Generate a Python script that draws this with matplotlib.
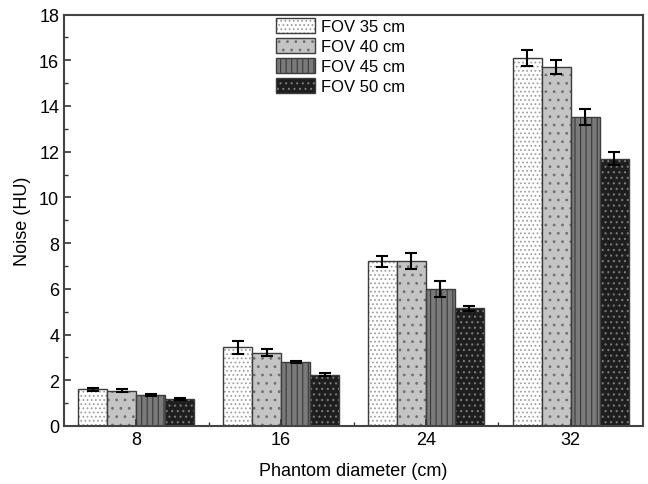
import numpy as np
import matplotlib.pyplot as plt
from matplotlib.patches import Patch

plt.rcParams['font.family'] = ['Liberation Sans', 'DejaVu Sans']
plt.rcParams['hatch.linewidth'] = 0.8

# phantom diameters (cm)
diameters = ['8', '16', '24', '32']
fov_labels = ['FOV 35 cm', 'FOV 40 cm', 'FOV 45 cm', 'FOV 50 cm']

# noise (HU) per FOV, one value per phantom diameter
noise_35 = [1.60, 3.45, 7.20, 16.10]
noise_40 = [1.55, 3.20, 7.20, 15.70]
noise_45 = [1.35, 2.80, 6.00, 13.50]
noise_50 = [1.18, 2.25, 5.15, 11.70]

err_35 = [0.05, 0.28, 0.25, 0.35]
err_40 = [0.05, 0.15, 0.35, 0.30]
err_45 = [0.05, 0.05, 0.35, 0.35]
err_50 = [0.05, 0.08, 0.12, 0.28]

noise = [noise_35, noise_40, noise_45, noise_50]
errs = [err_35, err_40, err_45, err_50]

faces = ['#ffffff', '#c4c4c4', '#7a7a7a', '#1e1e1e']
hatch_cols = ['#a0a0a0', '#707070', '#3a3a3a', '#7a7a7a']
hatches = ['....', '..', '|||', '...']

fig = plt.figure(figsize=(6.48, 4.85), dpi=100)
ax = fig.add_axes([0.0988, 0.1196, 0.8935, 0.8484])

x = np.arange(len(diameters))
w = 0.2
for i in range(4):
    pos = x + (i - 1.5) * w
    # hatched fill, then outline on top
    ax.bar(pos, noise[i], w, color=faces[i], hatch=hatches[i],
           edgecolor=hatch_cols[i], linewidth=0)
    ax.bar(pos, noise[i], w, fill=False, edgecolor='#3c3c3c', linewidth=1.0)
    ax.errorbar(pos, noise[i], yerr=errs[i], fmt='none', ecolor='black',
                elinewidth=1.5, capsize=4, capthick=1.5)

# legend handles: hatched patch + outline overlaid
handles = [(Patch(facecolor=faces[i], edgecolor=hatch_cols[i], hatch=hatches[i], linewidth=0),
            Patch(fill=False, edgecolor='#3c3c3c', linewidth=1.0)) for i in range(4)]
ax.legend(handles, fov_labels, loc='upper left',
          bbox_to_anchor=(273 / 648, 1 - 16 / 485), bbox_transform=fig.transFigure,
          frameon=False, fontsize=12, handlelength=2.3, handleheight=1.0,
          labelspacing=0.22, handletextpad=0.4, borderaxespad=0, borderpad=0.2)

ax.set_xlim(-0.5, 3.5)
ax.set_ylim(0, 18)
ax.set_xticks(x)
ax.set_xticklabels(diameters)
ax.set_xticks(x[:-1] + 0.5, minor=True)
ax.set_yticks(np.arange(0, 19, 2))
ax.set_yticks(np.arange(1, 18, 2), minor=True)
ax.tick_params(axis='both', which='major', direction='in', length=5, width=1.2,
               labelsize=13, colors='#333333', labelcolor='black')
ax.tick_params(axis='both', which='minor', direction='in', length=3, width=1.0,
               colors='#333333')
for s in ax.spines.values():
    s.set_color('#444444')
    s.set_linewidth(1.5)

ax.set_xlabel('Phantom diameter (cm)', fontsize=13, labelpad=10)
ax.set_ylabel('Noise (HU)', fontsize=13, labelpad=6)

fig.savefig('out.png', dpi=100)
